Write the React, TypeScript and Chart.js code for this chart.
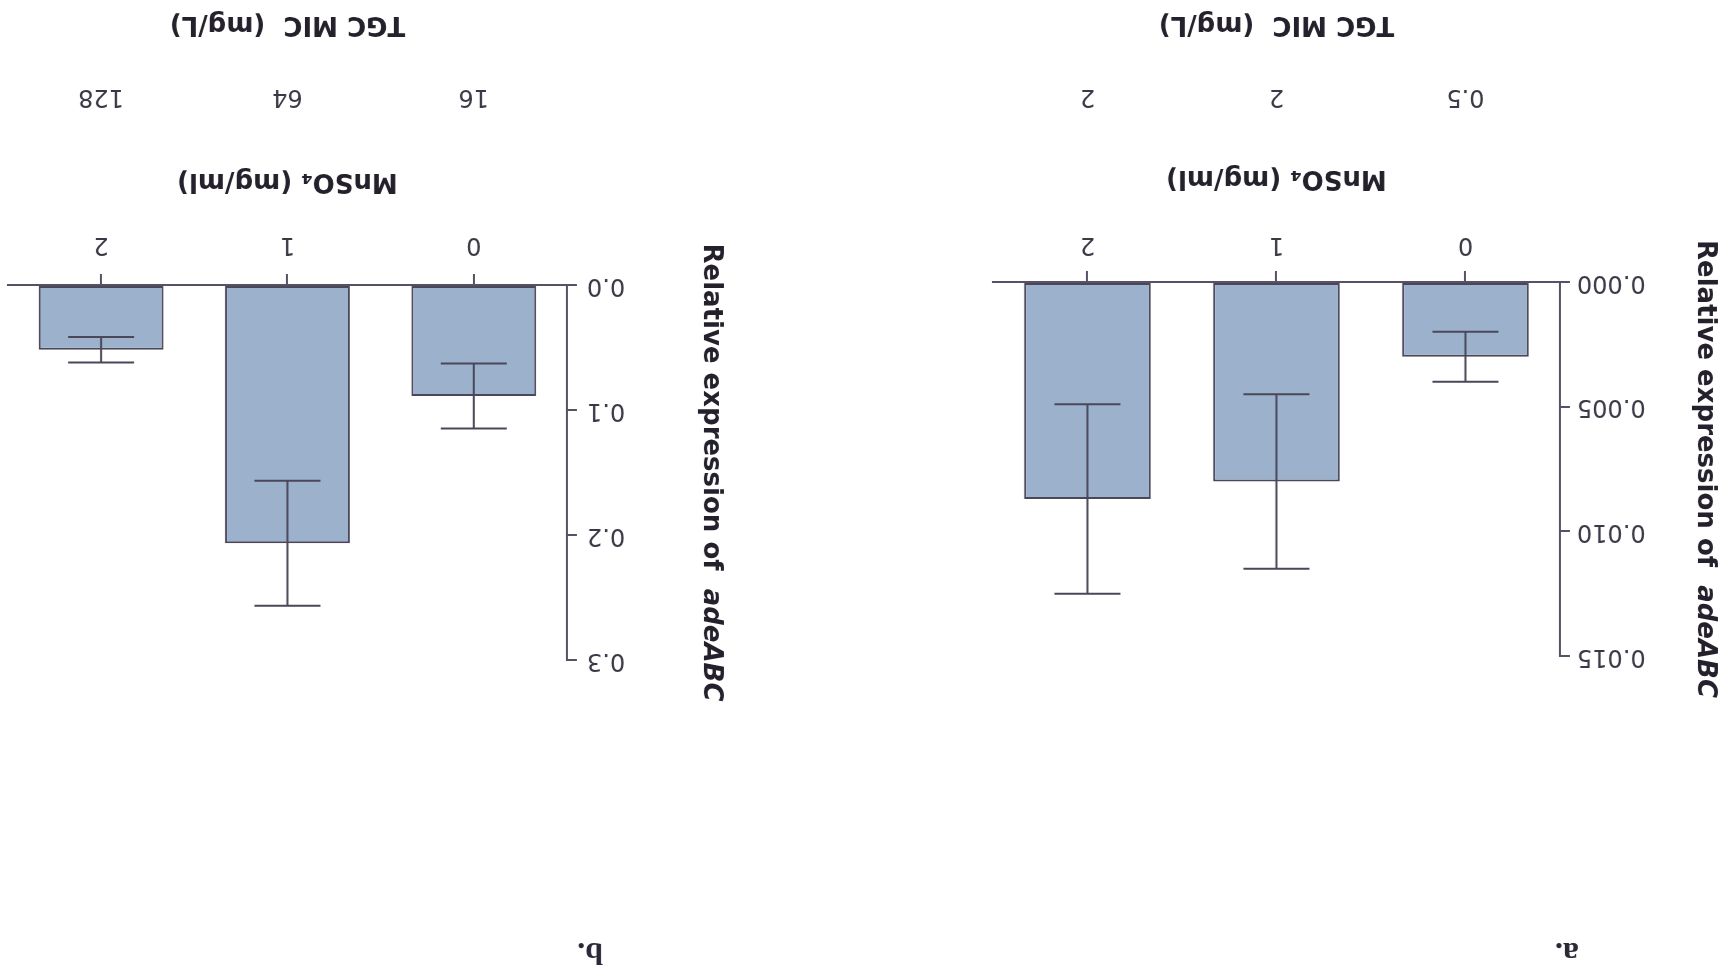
import React, { useEffect, useRef } from "react";
import { Chart, registerables } from "chart.js";

Chart.register(...registerables);

// ---- data ----
const mnso4Levels = ["0", "1", "2"];
const tgcMicA = ["0.5", "2", "2"];
const tgcMicB = ["16", "64", "128"];
const meanA = [0.003, 0.008, 0.0087];
const sdA = [0.001, 0.0035, 0.0038];
const meanB = [0.0888, 0.2067, 0.0518];
const sdB = [0.026, 0.05, 0.0102];
const yMaxA = 0.015;
const yStepA = 0.005;
const yMaxB = 0.3;
const yStepB = 0.1;
const xTitle = "MnSO\u2084 (mg/ml)";
const x2Title = "TGC MIC  (mg/L)";
const yTitleMain = "Relative expression of  ";
const yTitleGene = "adeABC";
const panelLetters = ["a.", "b."];

// ---- styles ----
const FONT = "'DejaVu Sans', 'Liberation Sans', sans-serif";
const INK = "#3b3846";
const TITLE_INK = "#24212c";
const AXIS = "#575165";
const BAR_FILL = "#9cb2cc";
const BAR_EDGE = "#4b4759";

const errorBarPlugin = {
  id: "errorBars",
  afterDatasetsDraw(chart: any) {
    const ds: any = chart.data.datasets[0];
    const errs: number[] = ds.errors || [];
    const meta = chart.getDatasetMeta(0);
    const y = chart.scales.y;
    const ctx = chart.ctx;
    ctx.save();
    ctx.strokeStyle = BAR_EDGE;
    ctx.lineWidth = 2;
    meta.data.forEach((bar: any, i: number) => {
      const v = ds.data[i] as number;
      const e = errs[i];
      const x = bar.x;
      const lo = y.getPixelForValue(v - e);
      const hi = y.getPixelForValue(v + e);
      const half = 33;
      ctx.beginPath();
      ctx.moveTo(x, lo);
      ctx.lineTo(x, hi);
      ctx.moveTo(x - half, lo);
      ctx.lineTo(x + half, lo);
      ctx.moveTo(x - half, hi);
      ctx.lineTo(x + half, hi);
      ctx.stroke();
    });
    ctx.restore();
  },
};

const yTitlePlugin = {
  id: "yTitleMixed",
  afterDraw(chart: any) {
    const ctx = chart.ctx;
    const area = chart.chartArea;
    const cy = (area.top + area.bottom) / 2;
    const cx = 20;
    ctx.save();
    ctx.translate(cx, cy);
    ctx.rotate(-Math.PI / 2);
    ctx.fillStyle = TITLE_INK;
    ctx.textBaseline = "middle";
    ctx.textAlign = "left";
    const f1 = `bold 26px ${FONT}`;
    const f2 = `italic bold 26px ${FONT}`;
    ctx.font = f1;
    const w1 = ctx.measureText(yTitleMain).width;
    ctx.font = f2;
    const w2 = ctx.measureText(yTitleGene).width;
    const start = -(w1 + w2) / 2;
    ctx.font = f1;
    ctx.fillText(yTitleMain, start, 0);
    ctx.font = f2;
    ctx.fillText(yTitleGene, start + w1, 0);
    ctx.restore();
  },
};

type PanelProps = {
  labels: string[];
  tgc: string[];
  mean: number[];
  sd: number[];
  yMax: number;
  yStep: number;
  decimals: number;
  left: number;
  width: number;
  yWidth: number;
  padRight: number;
  padTop: number;
  xHeight: number;
  x2Height: number;
  xPad: number;
  x2Pad: number;
  yPad: number;
};

function Panel(p: PanelProps) {
  const ref = useRef<HTMLCanvasElement>(null);
  useEffect(() => {
    const tickFont = { family: FONT, size: 24 };
    const titleFont = { family: FONT, size: 26, weight: "bold" as const };
    const chart = new Chart(ref.current as HTMLCanvasElement, {
      type: "bar",
      data: {
        labels: p.labels,
        datasets: [
          {
            data: p.mean,
            errors: p.sd,
            backgroundColor: BAR_FILL,
            borderColor: BAR_EDGE,
            borderWidth: 2,
            borderSkipped: false,
            barPercentage: 0.67,
            categoryPercentage: 1,
          } as any,
        ],
      },
      options: {
        responsive: false,
        animation: false,
        devicePixelRatio: 1,
        layout: { padding: { left: 0, right: p.padRight, top: p.padTop, bottom: 0 } },
        plugins: { legend: { display: false }, tooltip: { enabled: false } },
        scales: {
          x: {
            type: "category",
            position: "bottom",
            offset: true,
            grid: {
              display: true,
              drawOnChartArea: false,
              drawTicks: true,
              tickLength: 11,
              offset: false,
              color: AXIS,
              lineWidth: 2,
            },
            border: { display: true, color: AXIS, width: 2 },
            ticks: { font: tickFont, color: INK, padding: p.xPad, maxRotation: 0, autoSkip: false },
            title: { display: true, text: xTitle, font: titleFont, color: TITLE_INK, padding: { top: 0, bottom: 0 } },
            afterFit: (s: any) => {
              s.height = p.xHeight;
            },
          },
          x2: {
            type: "category",
            position: "bottom",
            labels: p.tgc,
            offset: true,
            weight: 1,
            grid: { display: false, drawTicks: false },
            border: { display: false },
            ticks: { font: tickFont, color: INK, padding: p.x2Pad, maxRotation: 0, autoSkip: false },
            title: { display: true, text: x2Title, font: titleFont, color: TITLE_INK, padding: { top: 0, bottom: 8 } },
            afterFit: (s: any) => {
              s.height = p.x2Height;
            },
          },
          y: {
            type: "linear",
            position: "left",
            min: 0,
            max: p.yMax,
            ticks: {
              stepSize: p.yStep,
              font: tickFont,
              color: INK,
              padding: p.yPad,
              callback: (v: any) => Number(v).toFixed(p.decimals),
            },
            grid: { drawOnChartArea: false, drawTicks: true, tickLength: 10, color: AXIS, lineWidth: 2 },
            border: { display: true, color: AXIS, width: 2 },
            afterFit: (s: any) => {
              s.width = p.yWidth;
            },
          },
        },
      } as any,
      plugins: [errorBarPlugin, yTitlePlugin],
    });
    return () => chart.destroy();
  }, []);
  return (
    <canvas
      ref={ref}
      width={p.width}
      height={974}
      style={{ position: "absolute", left: p.left, top: 0, width: p.width, height: 974 }}
    />
  );
}

const letterStyle: React.CSSProperties = {
  position: "absolute",
  top: 4,
  font: "bold 32px 'Liberation Serif', 'DejaVu Serif', serif",
  lineHeight: "32px",
  color: "#2b2838",
};

export default function App() {
  return (
    <div
      style={{
        position: "fixed",
        left: 0,
        top: 0,
        width: 1725,
        height: 974,
        background: "#ffffff",
        transform: "rotate(180deg)",
        overflow: "hidden",
      }}
    >
      <Panel
        labels={mnso4Levels}
        tgc={tgcMicA}
        mean={meanA}
        sd={sdA}
        yMax={yMaxA}
        yStep={yStepA}
        decimals={3}
        left={0}
        width={760}
        yWidth={165}
        padRight={28}
        padTop={318}
        xHeight={120}
        x2Height={162}
        xPad={12}
        x2Pad={51}
        yPad={7}
      />
      <Panel
        labels={mnso4Levels}
        tgc={tgcMicB}
        mean={meanB}
        sd={sdB}
        yMax={yMaxB}
        yStep={yStepB}
        decimals={1}
        left={994}
        width={731}
        yWidth={164}
        padRight={8}
        padTop={314}
        xHeight={120}
        x2Height={165}
        xPad={15}
        x2Pad={54}
        yPad={10}
      />
      <div style={{ ...letterStyle, left: 146 }}>{panelLetters[0]}</div>
      <div style={{ ...letterStyle, left: 1122 }}>{panelLetters[1]}</div>
    </div>
  );
}
